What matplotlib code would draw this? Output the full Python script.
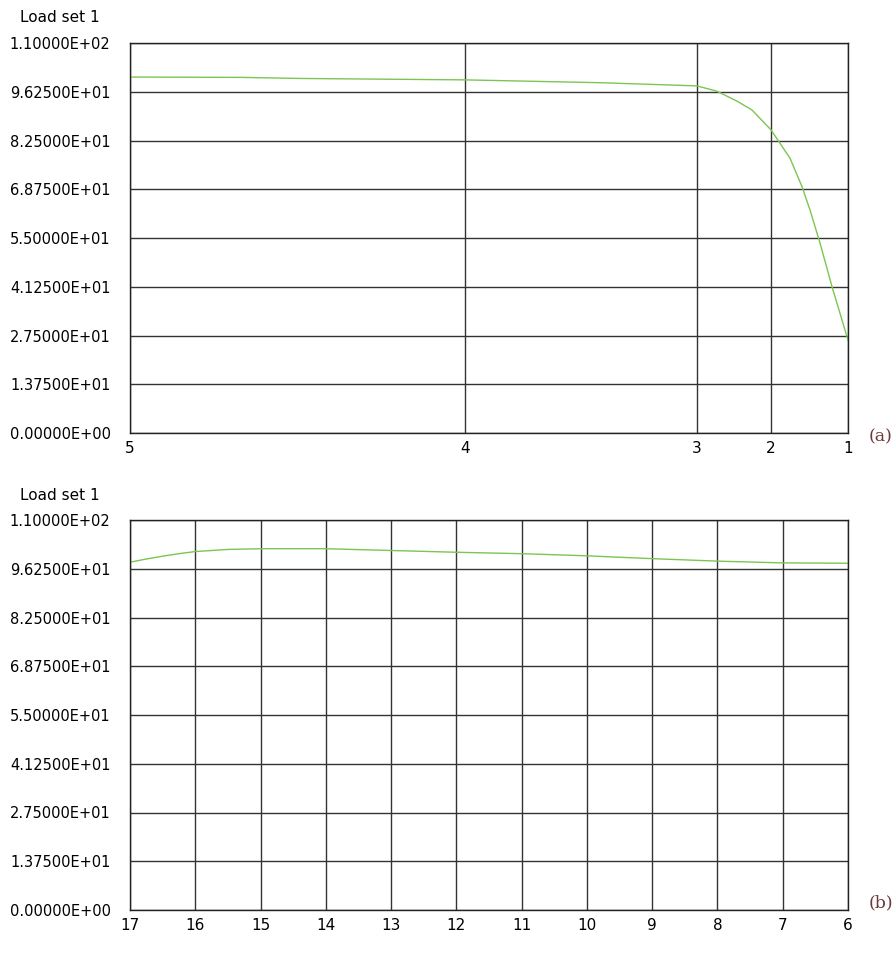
import numpy as np
import matplotlib
matplotlib.use("Agg")
import matplotlib.pyplot as plt

# y axis ticks shared by both panels
y_ticks = [0.0, 13.75, 27.5, 41.25, 55.0, 68.75, 82.5, 96.25, 110.0]

# panel (a): node labels placed by distance along the path
a_node_labels = ["5", "4", "3", "2", "1"]
a_node_pos = [0.0, 335.0, 567.0, 641.0, 718.0]
a_x = [0, 112, 170, 335, 470, 535, 567, 587, 607, 622, 641, 660, 672, 680, 690, 702, 718]
a_y = [100.4, 100.3, 100.0, 99.6, 98.8, 98.2, 97.9, 96.4, 93.6, 91.1, 85.5, 77.5, 69.5, 62.9, 53.6, 41.3, 26.2]

# panel (b): evenly spaced nodes
b_node_labels = ["17", "16", "15", "14", "13", "12", "11", "10", "9", "8", "7", "6"]
b_node_pos = list(range(12))
b_x = [0, 0.25, 0.5, 0.75, 1, 1.5, 2, 3, 4, 5, 6, 7, 8, 9, 10, 11]
b_y = [98.1, 99.0, 99.8, 100.5, 101.1, 101.7, 101.9, 101.9, 101.4, 100.9, 100.5, 99.9, 99.1, 98.4, 97.9, 97.8]

line_col = "#7cc552"
grid_col = "#333333"
tick_font = dict(family="DejaVu Sans", size=10.5)
x_font = ["Liberation Sans Narrow", "DejaVu Sans"]

fig = plt.figure(figsize=(8.94, 9.61), dpi=100)

W = 894.0
H = 961.0
left = 130 / W
width = (848 - 130) / W


def draw_panel(top_px, bottom_px, xs, ys, node_pos, node_labels, tag, tag_y):
    ax = fig.add_axes([left, 1 - bottom_px / H, width, (bottom_px - top_px) / H])
    ax.plot(xs, ys, color=line_col, linewidth=1.0)
    ax.set_xlim(node_pos[0], node_pos[-1])
    ax.set_ylim(0, 110)
    ax.set_yticks(y_ticks)
    ax.set_yticklabels(["%.5E" % v for v in y_ticks], **tick_font)
    ax.set_xticks(node_pos)
    ax.set_xticklabels(node_labels, family=x_font, size=11)
    ax.tick_params(axis="y", length=0, pad=14)
    ax.tick_params(axis="x", length=0, pad=6)
    ax.grid(True, color=grid_col, linewidth=1.0)
    ax.set_axisbelow(True)
    for s in ax.spines.values():
        s.set_color("#222222")
        s.set_linewidth(1.0)
    fig.text(20 / W, 1 - (top_px - 25) / H, "Load set 1", ha="left", va="center",
             family="DejaVu Sans", size=11)
    fig.text(881 / W, 1 - tag_y / H, tag, ha="center", va="center",
             family="DejaVu Serif", size=12.5, color="#6b3a3a")
    return ax


ax1 = draw_panel(43, 433, a_x, a_y, a_node_pos, a_node_labels, "(a)", 437)
ax2 = draw_panel(520, 910, b_x, b_y, b_node_pos, b_node_labels, "(b)", 903)

fig.savefig("out.png", dpi=100)
